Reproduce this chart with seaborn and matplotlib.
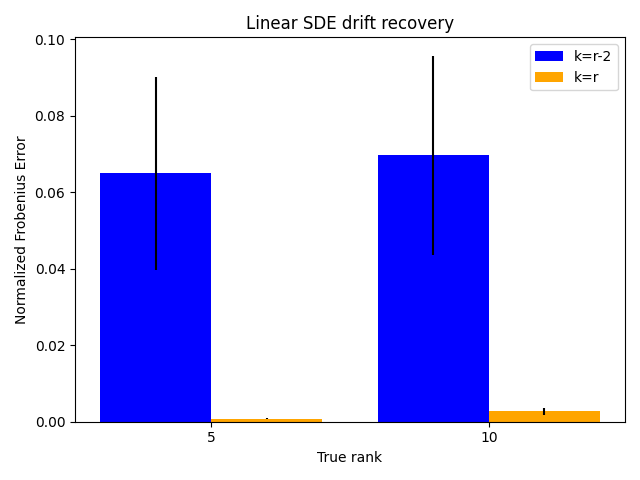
import matplotlib
matplotlib.use("Agg")
import matplotlib.pyplot as plt
import seaborn as sns
import pandas as pd

ranks = ["5", "10"]
series = ["k=r-2", "k=r"]
means_k_rm2 = [0.0649, 0.0696]
errs_k_rm2 = [0.0252, 0.0261]
means_k_r = [0.0008, 0.0027]
errs_k_r = [0.0001, 0.0010]
colors = ["blue", "orange"]

df = pd.DataFrame({
    "rank": ranks * 2,
    "series": [series[0]] * 2 + [series[1]] * 2,
    "value": means_k_rm2 + means_k_r,
})
errs = [errs_k_rm2, errs_k_r]

fig, ax = plt.subplots(figsize=(6.4, 4.8), dpi=100)
sns.barplot(data=df, x="rank", y="value", hue="series", order=ranks,
            hue_order=series, palette=colors, saturation=1, width=0.8,
            errorbar=None, linewidth=0, ax=ax)

for cont, e in zip(ax.containers, errs):
    xs = [p.get_x() + p.get_width() / 2 for p in cont.patches]
    hs = [p.get_height() for p in cont.patches]
    ax.errorbar(xs, hs, yerr=e, fmt="none", ecolor="black", capsize=0, elinewidth=1.5)

ax.set_xlim(-0.49, 1.49)
ax.set_xlabel("True rank")
ax.set_ylabel("Normalized Frobenius Error")
ax.set_title("Linear SDE drift recovery")
ax.legend(loc="upper right", title=None)
fig.tight_layout()
fig.savefig("out.png", dpi=100)
